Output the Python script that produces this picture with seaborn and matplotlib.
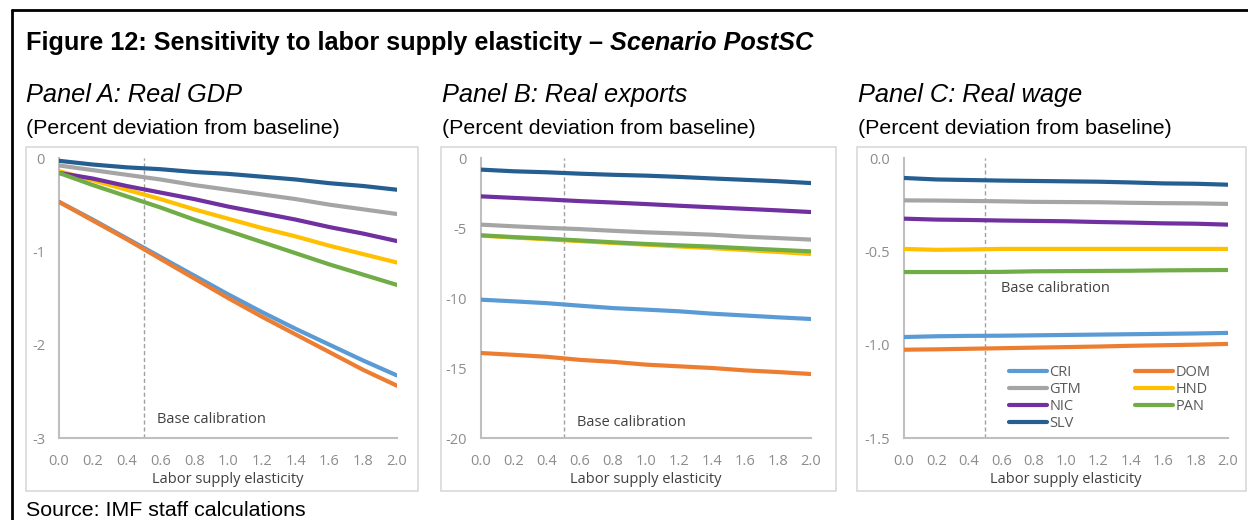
import matplotlib
matplotlib.use("Agg")
import matplotlib.pyplot as plt
from matplotlib.patches import Rectangle
from matplotlib.lines import Line2D
import numpy as np
import pandas as pd
import seaborn as sns

# ---------------------------------------------------------------- data
elasticity = [0.0, 0.2, 0.4, 0.6, 0.8, 1.0, 1.2, 1.4, 1.6, 1.8, 2.0]
countries = ["CRI", "DOM", "GTM", "HND", "NIC", "PAN", "SLV"]

gdp_cri = [-0.47, -0.66, -0.86, -1.06, -1.26, -1.46, -1.65, -1.83, -2.00, -2.17, -2.33]
gdp_dom = [-0.47, -0.67, -0.87, -1.08, -1.29, -1.50, -1.70, -1.89, -2.08, -2.27, -2.44]
gdp_gtm = [-0.08, -0.13, -0.18, -0.23, -0.29, -0.34, -0.39, -0.44, -0.50, -0.55, -0.60]
gdp_hnd = [-0.14, -0.24, -0.34, -0.44, -0.55, -0.65, -0.75, -0.84, -0.94, -1.03, -1.12]
gdp_nic = [-0.16, -0.22, -0.30, -0.37, -0.44, -0.52, -0.59, -0.66, -0.74, -0.81, -0.89]
gdp_pan = [-0.16, -0.29, -0.41, -0.53, -0.66, -0.78, -0.90, -1.02, -1.14, -1.25, -1.36]
gdp_slv = [-0.03, -0.07, -0.10, -0.12, -0.15, -0.17, -0.20, -0.23, -0.27, -0.30, -0.34]

exp_cri = [-10.12, -10.24, -10.37, -10.55, -10.72, -10.83, -10.95, -11.12, -11.25, -11.38, -11.50]
exp_dom = [-13.93, -14.06, -14.20, -14.42, -14.56, -14.76, -14.88, -15.00, -15.17, -15.29, -15.43]
exp_gtm = [-4.76, -4.88, -4.99, -5.08, -5.20, -5.31, -5.39, -5.48, -5.62, -5.72, -5.83]
exp_hnd = [-5.55, -5.68, -5.81, -5.94, -6.07, -6.19, -6.32, -6.44, -6.57, -6.71, -6.86]
exp_nic = [-2.74, -2.85, -2.96, -3.08, -3.18, -3.29, -3.41, -3.52, -3.63, -3.74, -3.86]
exp_pan = [-5.52, -5.65, -5.76, -5.89, -6.02, -6.14, -6.24, -6.33, -6.45, -6.56, -6.67]
exp_slv = [-0.83, -0.95, -1.02, -1.12, -1.20, -1.26, -1.35, -1.46, -1.56, -1.66, -1.79]

wage_cri = [-0.959, -0.955, -0.953, -0.952, -0.950, -0.948, -0.946, -0.944, -0.942, -0.940, -0.937]
wage_dom = [-1.027, -1.025, -1.022, -1.019, -1.016, -1.013, -1.010, -1.006, -1.003, -1.000, -0.996]
wage_gtm = [-0.227, -0.228, -0.230, -0.232, -0.235, -0.236, -0.237, -0.240, -0.242, -0.243, -0.246]
wage_hnd = [-0.487, -0.492, -0.490, -0.487, -0.487, -0.487, -0.487, -0.487, -0.487, -0.487, -0.487]
wage_nic = [-0.325, -0.330, -0.332, -0.335, -0.337, -0.339, -0.343, -0.346, -0.350, -0.352, -0.357]
wage_pan = [-0.611, -0.611, -0.611, -0.610, -0.607, -0.606, -0.605, -0.604, -0.602, -0.601, -0.600]
wage_slv = [-0.107, -0.115, -0.118, -0.121, -0.123, -0.125, -0.127, -0.131, -0.136, -0.138, -0.143]

x_ticks = [0.0, 0.2, 0.4, 0.6, 0.8, 1.0, 1.2, 1.4, 1.6, 1.8, 2.0]
gdp_ticks = [0, -1, -2, -3]
exp_ticks = [0, -5, -10, -15, -20]
wage_ticks = [0.0, -0.5, -1.0, -1.5]

base_calibration = 0.5

palette = {
    "CRI": "#5B9BD5",
    "DOM": "#ED7D31",
    "GTM": "#A5A5A5",
    "HND": "#FFC000",
    "NIC": "#7030A0",
    "PAN": "#70AD47",
    "SLV": "#255E91",
}


def long_frame(series):
    rows = []
    for c, vals in zip(countries, series):
        for x, v in zip(elasticity, vals):
            rows.append({"elasticity": x, "value": v, "country": c})
    return pd.DataFrame(rows)


gdp = long_frame([gdp_cri, gdp_dom, gdp_gtm, gdp_hnd, gdp_nic, gdp_pan, gdp_slv])
exports = long_frame([exp_cri, exp_dom, exp_gtm, exp_hnd, exp_nic, exp_pan, exp_slv])
wage = long_frame([wage_cri, wage_dom, wage_gtm, wage_hnd, wage_nic, wage_pan, wage_slv])

# ---------------------------------------------------------------- style
sns.set_style("white")
plt.rcParams["font.family"] = ["Open Sans", "DejaVu Sans"]

W, H = 1248, 520
fig = plt.figure(figsize=(W / 100, H / 100), dpi=100)
fig.patch.set_facecolor("white")

tick_grey = "#8C8C8C"
spine_grey = "#BFBFBF"
label_dark = "#404040"


def fx(px):
    return px / W


def fy(py):
    return 1 - py / H


# outer frame (left and top edges)
fig.add_artist(Line2D([fx(12), fx(12)], [fy(10), fy(H + 5)], color="black", lw=2.0,
                      transform=fig.transFigure))
fig.add_artist(Line2D([fx(12), fx(W + 5)], [fy(10), fy(10)], color="black", lw=2.0,
                      transform=fig.transFigure))

# panel frames
for x0, x1 in [(26, 418), (441, 836), (857, 1246)]:
    fig.add_artist(Rectangle((fx(x0), fy(491)), fx(x1 - x0), (491 - 147) / H,
                             transform=fig.transFigure, fill=False,
                             edgecolor="#D9D9D9", lw=1.2))

# title: bold part followed by bold-italic part
t1 = fig.text(fx(26), fy(43), "Figure 12: Sensitivity to labor supply elasticity \u2013 ",
              family="Liberation Sans", weight="bold", fontsize=18.2, va="center",
              ha="left", color="black")
fig.canvas.draw()
bb = t1.get_window_extent(fig.canvas.get_renderer())
fig.text(bb.x1 / W, fy(43), "Scenario PostSC", family="Liberation Sans",
         weight="bold", style="italic", fontsize=18.2, va="center", ha="left",
         color="black")

panels = [
    ("Panel A: Real GDP", 26, gdp, gdp_ticks, ["0", "-1", "-2", "-3"], (59, 397),
     (0.58, -2.8)),
    ("Panel B: Real exports", 442, exports, exp_ticks, ["0", "-5", "-10", "-15", "-20"],
     (481, 811), (0.58, -18.9)),
    ("Panel C: Real wage", 858, wage, wage_ticks, ["0.0", "-0.5", "-1.0", "-1.5"],
     (904, 1228), (0.60, -0.70)),
]

for i, (ptitle, tx, df, yt, ytl, (ax0, ax1), (bx, by)) in enumerate(panels):
    fig.text(fx(tx), fy(95), ptitle, family="Liberation Sans", style="italic",
             fontsize=18.3, va="center", ha="left", color="black")
    fig.text(fx(tx), fy(129), "(Percent deviation from baseline)",
             family="Liberation Sans", fontsize=15.4, va="center", ha="left",
             color="black")

    ax = fig.add_axes([fx(ax0), fy(438), fx(ax1 - ax0), (438 - 158) / H])
    sns.lineplot(data=df, x="elasticity", y="value", hue="country",
                 hue_order=countries, palette=palette, linewidth=3.0,
                 ax=ax, legend=(i == 2), zorder=3)
    ax.axvline(base_calibration, color="#A0A0A0", lw=1.0, ls=(0, (3, 2)), zorder=2)
    ax.text(bx, by, "Base calibration", fontsize=10.5, color=label_dark,
            ha="left", va="center")

    ax.set_xlim(0, 2.0)
    ax.set_ylim(yt[-1], yt[0])
    ax.set_xticks(x_ticks)
    ax.set_xticklabels([f"{v:.1f}" for v in x_ticks])
    ax.set_yticks(yt)
    ax.set_yticklabels(ytl)
    ax.tick_params(axis="both", length=0, labelsize=10.5, labelcolor=tick_grey)
    ax.tick_params(axis="x", pad=11.5)
    ax.tick_params(axis="y", pad=10)
    ax.set_xlabel("Labor supply elasticity", fontsize=10.5, color=label_dark, labelpad=2)
    ax.set_ylabel("")
    for side in ["top", "right"]:
        ax.spines[side].set_visible(False)
    for side in ["left", "bottom"]:
        ax.spines[side].set_color(spine_grey)
        ax.spines[side].set_linewidth(1.5)
    ax.set_facecolor("none")

    if i == 2:
        handles, labels = ax.get_legend_handles_labels()
        lookup = dict(zip(labels, handles))
        order = ["CRI", "GTM", "NIC", "SLV", "DOM", "HND", "PAN"]
        leg = ax.legend([lookup[k] for k in order], order, ncol=2, frameon=False,
                        loc="upper left", bbox_to_anchor=(0.305, 0.28),
                        handlelength=2.6, handletextpad=0.2, columnspacing=3.7,
                        labelspacing=0.12, fontsize=10.5, borderaxespad=0)
        for t in leg.get_texts():
            t.set_color("#595959")

fig.text(fx(26), fy(510), "Source: IMF staff calculations", family="Liberation Sans",
         fontsize=15.4, va="center", ha="left", color="black")

fig.savefig("out.png", dpi=100, facecolor="white")
